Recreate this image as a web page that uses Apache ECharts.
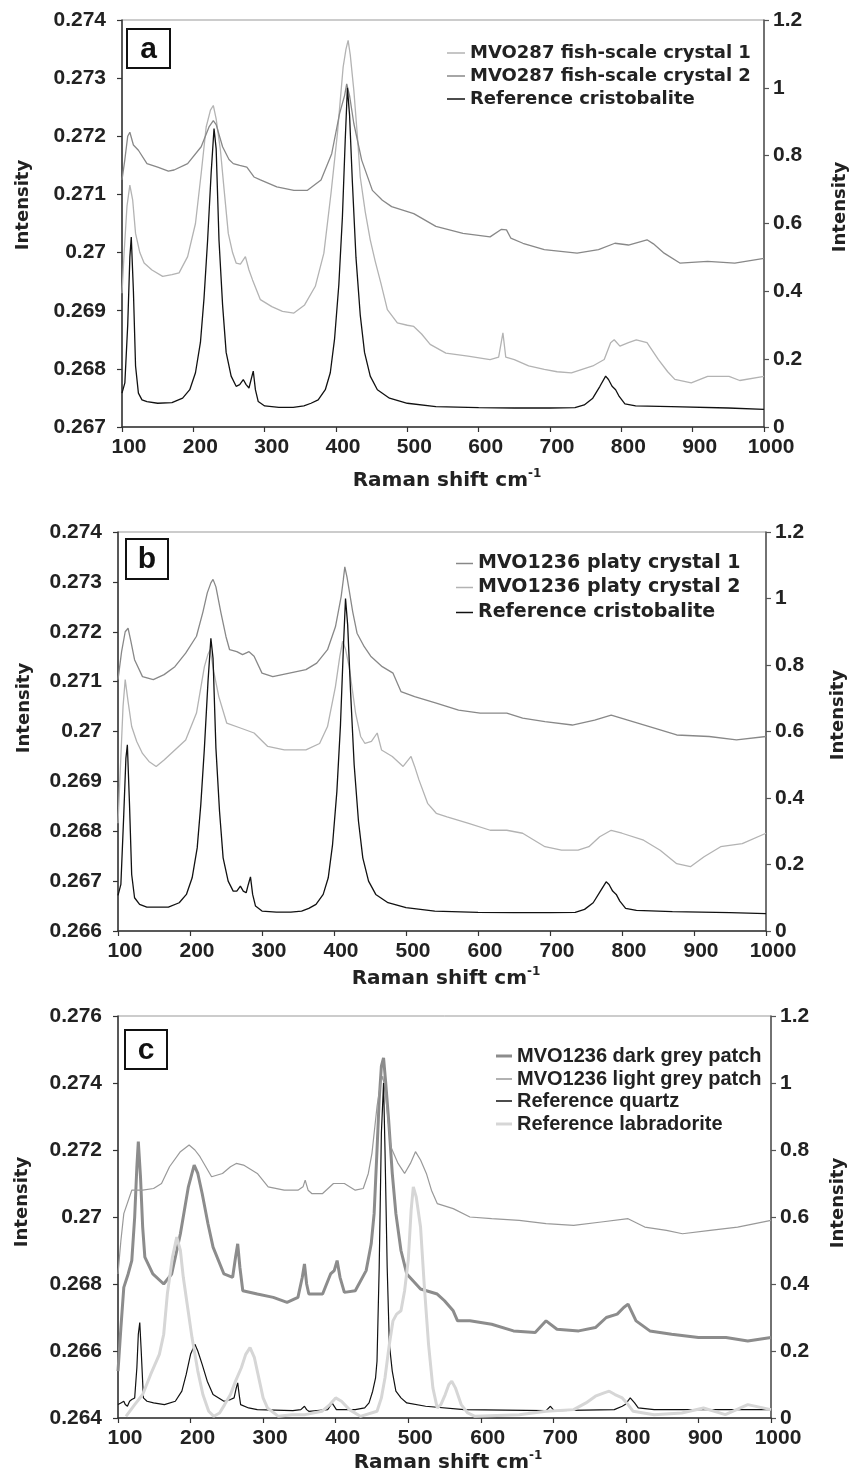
<!DOCTYPE html>
<html>
<head>
<meta charset="utf-8">
<script src="https://cdn.jsdelivr.net/npm/echarts@6.0.0/dist/echarts.min.js"></script>
<style>
  html, body { margin: 0; padding: 0; background: #fff; }
  #chart { width: 854px; height: 1475px; }
</style>
</head>
<body>
<div id="chart"></div>
<script>
// values: [Raman shift cm-1, intensity]

// panel a (samples on left axis, reference on right axis)
const aCrystal1 = [[100,0.2693],[103,0.2700],[107,0.2708],[111,0.27116],[115,0.2709],[119,0.27033],[125,0.2700],[131,0.26982],[142,0.2697],[157,0.26959],[170,0.26962],[180,0.26965],[192,0.26993],[203,0.2705],[211,0.27136],[218,0.27216],[224,0.27245],[228,0.27253],[232,0.2723],[238,0.27176],[243,0.2711],[249,0.27033],[255,0.2700],[260,0.26982],[266,0.2698],[273,0.26993],[278,0.2697],[283,0.26953],[294,0.26919],[310,0.26907],[325,0.26899],[341,0.26896],[356,0.2691],[371,0.26942],[383,0.26999],[393,0.27102],[402,0.27205],[410,0.27319],[414,0.2735],[417,0.27365],[420,0.2734],[425,0.27279],[430,0.2720],[434,0.2713],[441,0.2707],[448,0.27022],[455,0.26985],[463,0.26947],[472,0.26902],[486,0.26879],[500,0.26875],[509,0.26873],[520,0.2686],[532,0.26842],[554,0.26827],[585,0.26822],[616,0.26816],[628,0.2682],[634,0.26862],[638,0.2682],[650,0.26816],[670,0.26805],[692,0.26799],[710,0.26795],[730,0.26793],[760,0.26805],[776,0.26816],[785,0.26845],[790,0.2685],[798,0.26839],[810,0.26845],[821,0.2685],[836,0.26845],[852,0.26816],[865,0.26795],[875,0.26782],[898,0.26776],[921,0.26787],[951,0.26787],[966,0.2678],[1000,0.26787]];
const aCrystal2 = [[100,0.27125],[104,0.2716],[108,0.2720],[111,0.27207],[116,0.27185],[123,0.27176],[135,0.27153],[150,0.27147],[165,0.2714],[173,0.27142],[192,0.27153],[211,0.27182],[222,0.27216],[228,0.27227],[232,0.2722],[241,0.27182],[250,0.2716],[256,0.27153],[265,0.2715],[275,0.27147],[285,0.2713],[294,0.27125],[317,0.27113],[341,0.27107],[360,0.27107],[379,0.27125],[394,0.2717],[405,0.27239],[412,0.2727],[415,0.2729],[419,0.2727],[425,0.27222],[436,0.27159],[451,0.27107],[465,0.2709],[478,0.27079],[509,0.27067],[540,0.27045],[578,0.27033],[616,0.27027],[632,0.2704],[639,0.27039],[645,0.27025],[662,0.27016],[692,0.27005],[738,0.26999],[768,0.27005],[791,0.27016],[810,0.27013],[836,0.27022],[845,0.27015],[860,0.26999],[882,0.26982],[921,0.26985],[959,0.26982],[1000,0.2699]];
const aCristobalite = [[100,0.10],[104,0.13],[108,0.30],[111,0.50],[113,0.56],[116,0.40],[119,0.18],[123,0.10],[128,0.08],[135,0.075],[150,0.070],[170,0.072],[185,0.085],[195,0.11],[203,0.16],[210,0.25],[215,0.38],[220,0.55],[225,0.75],[229,0.88],[232,0.82],[236,0.55],[241,0.36],[246,0.22],[253,0.15],[260,0.12],[265,0.125],[270,0.14],[274,0.125],[278,0.115],[281,0.14],[284,0.165],[287,0.11],[291,0.075],[300,0.062],[320,0.058],[340,0.058],[355,0.062],[365,0.07],[375,0.08],[385,0.11],[392,0.16],[398,0.26],[404,0.42],[409,0.62],[413,0.85],[416,1.0],[419,0.92],[423,0.72],[428,0.50],[434,0.33],[440,0.22],[448,0.15],[458,0.11],[475,0.085],[500,0.07],[540,0.06],[600,0.057],[650,0.056],[700,0.056],[735,0.057],[748,0.065],[760,0.085],[770,0.12],[778,0.15],[782,0.14],[787,0.12],[792,0.11],[797,0.09],[805,0.068],[820,0.062],[870,0.06],[950,0.056],[1000,0.052]];

// panel b
const bCrystal1 = [[100,0.27104],[105,0.2716],[110,0.2720],[114,0.27207],[118,0.2718],[123,0.27144],[134,0.2711],[149,0.27104],[164,0.27114],[179,0.2713],[194,0.27157],[209,0.27191],[218,0.2724],[224,0.27278],[229,0.27298],[232,0.27305],[236,0.2729],[243,0.27238],[250,0.2719],[255,0.27164],[265,0.2716],[273,0.27154],[282,0.2716],[289,0.27151],[300,0.27117],[315,0.2711],[338,0.27117],[361,0.27124],[376,0.27137],[391,0.27164],[402,0.2721],[410,0.27271],[413,0.27305],[415,0.2733],[418,0.2731],[421,0.27284],[426,0.2724],[432,0.27197],[442,0.2717],[451,0.27151],[467,0.2713],[482,0.27117],[493,0.2708],[512,0.2707],[542,0.27057],[573,0.27043],[603,0.27037],[640,0.27037],[662,0.27027],[693,0.2702],[731,0.27013],[762,0.27023],[785,0.27033],[815,0.2702],[845,0.27007],[876,0.26993],[921,0.2699],[959,0.26983],[1000,0.2699]];
const bCrystal2 = [[100,0.26816],[104,0.2695],[107,0.2705],[110,0.27104],[114,0.2706],[119,0.2701],[126,0.2698],[134,0.26956],[143,0.2694],[153,0.2693],[164,0.26943],[179,0.26963],[194,0.26983],[209,0.27037],[220,0.2713],[225,0.27155],[228,0.27164],[233,0.2712],[240,0.2707],[251,0.27017],[270,0.27007],[289,0.26997],[308,0.2697],[331,0.26963],[361,0.26963],[380,0.26976],[391,0.2701],[402,0.2709],[408,0.2715],[412,0.27181],[416,0.27165],[421,0.2713],[430,0.27037],[437,0.2699],[443,0.26976],[452,0.2698],[460,0.26997],[466,0.26963],[481,0.2695],[496,0.2693],[507,0.2695],[512,0.2693],[518,0.26903],[530,0.26856],[542,0.26836],[557,0.26829],[587,0.26816],[617,0.26802],[640,0.26802],[662,0.26796],[693,0.26769],[716,0.26762],[739,0.26762],[754,0.26769],[769,0.26789],[785,0.26802],[800,0.26796],[830,0.26782],[853,0.26762],[876,0.26735],[895,0.26729],[914,0.26749],[937,0.26769],[967,0.26775],[1000,0.26796]];
const bCristobalite = [[100,0.107],[104,0.14],[108,0.35],[111,0.52],[113,0.56],[116,0.38],[119,0.17],[123,0.10],[130,0.08],[140,0.072],[170,0.072],[185,0.085],[195,0.11],[203,0.16],[210,0.25],[215,0.38],[220,0.55],[225,0.75],[229,0.88],[232,0.82],[236,0.55],[241,0.36],[246,0.22],[253,0.15],[260,0.12],[265,0.12],[270,0.135],[274,0.12],[278,0.115],[281,0.14],[284,0.163],[287,0.11],[291,0.075],[300,0.06],[320,0.057],[340,0.057],[355,0.06],[365,0.068],[375,0.08],[385,0.11],[392,0.16],[398,0.26],[404,0.42],[409,0.62],[413,0.85],[416,1.0],[419,0.92],[423,0.72],[428,0.50],[434,0.33],[440,0.22],[448,0.15],[458,0.11],[475,0.085],[500,0.07],[540,0.06],[600,0.056],[650,0.055],[700,0.055],[735,0.056],[748,0.065],[760,0.085],[770,0.12],[778,0.148],[782,0.14],[787,0.12],[792,0.11],[797,0.09],[805,0.068],[820,0.062],[870,0.058],[950,0.055],[1000,0.052]];

// panel c
const cDarkPatch = [[100,0.2654],[104,0.2667],[108,0.2679],[114,0.2683],[119,0.2687],[123,0.2700],[126,0.2715],[128,0.27225],[131,0.2712],[134,0.2697],[137,0.2688],[148,0.2683],[163,0.2680],[174,0.2683],[186,0.2695],[197,0.2709],[205,0.27155],[210,0.2713],[216,0.2707],[224,0.2698],[231,0.2691],[246,0.2683],[258,0.2682],[262,0.2688],[265,0.2692],[268,0.2685],[272,0.2678],[292,0.2677],[314,0.2676],[333,0.26745],[348,0.2676],[354,0.2682],[357,0.2686],[360,0.2680],[363,0.2677],[382,0.2677],[393,0.2683],[398,0.2684],[402,0.2687],[406,0.2682],[412,0.26775],[427,0.2678],[442,0.2684],[449,0.2692],[453,0.2701],[457,0.2720],[460,0.2735],[463,0.2745],[466,0.27475],[469,0.2740],[473,0.2729],[478,0.2713],[483,0.2701],[490,0.2690],[498,0.2683],[517,0.26785],[540,0.2677],[550,0.2675],[562,0.2672],[568,0.2669],[585,0.2669],[615,0.2668],[645,0.2666],[675,0.26655],[690,0.2669],[705,0.26665],[735,0.2666],[758,0.2667],[773,0.2670],[788,0.2671],[797,0.2673],[803,0.2674],[814,0.2669],[833,0.2666],[863,0.2665],[900,0.2664],[938,0.2664],[968,0.2663],[1000,0.2664]];
const cLightPatch = [[100,0.2683],[104,0.2693],[108,0.2701],[119,0.2708],[134,0.2708],[149,0.27085],[160,0.2710],[171,0.2715],[186,0.27195],[198,0.27215],[206,0.2720],[213,0.2718],[229,0.2712],[244,0.2713],[255,0.2715],[263,0.2716],[273,0.27155],[292,0.2713],[307,0.2709],[329,0.2708],[348,0.2708],[355,0.2709],[358,0.2711],[362,0.2708],[367,0.2707],[382,0.2707],[397,0.2710],[412,0.2710],[427,0.2708],[438,0.27085],[445,0.2713],[450,0.2719],[457,0.2733],[462,0.2740],[465,0.2742],[469,0.2736],[476,0.2721],[486,0.2716],[495,0.2713],[503,0.2716],[510,0.27195],[517,0.2717],[525,0.2713],[532,0.2708],[540,0.2704],[562,0.27025],[585,0.2700],[615,0.26995],[653,0.2699],[690,0.2698],[728,0.26975],[766,0.26985],[803,0.26995],[826,0.2697],[856,0.2696],[878,0.2695],[916,0.2696],[954,0.2697],[1000,0.2699]];
const cQuartz = [[100,0.04],[104,0.045],[108,0.05],[110,0.04],[113,0.035],[116,0.05],[119,0.055],[123,0.06],[126,0.15],[128,0.25],[130,0.285],[132,0.20],[135,0.06],[140,0.05],[149,0.045],[164,0.04],[179,0.05],[188,0.08],[194,0.13],[200,0.19],[206,0.22],[210,0.20],[216,0.16],[223,0.11],[231,0.07],[246,0.05],[255,0.055],[260,0.06],[263,0.09],[265,0.105],[267,0.07],[269,0.04],[280,0.03],[292,0.025],[341,0.022],[352,0.025],[357,0.035],[360,0.025],[363,0.02],[389,0.025],[395,0.045],[401,0.025],[427,0.025],[440,0.03],[446,0.045],[451,0.08],[455,0.12],[457,0.17],[460,0.45],[463,0.85],[466,1.0],[468,0.80],[471,0.45],[474,0.22],[478,0.14],[483,0.08],[490,0.06],[498,0.045],[524,0.035],[577,0.025],[690,0.022],[696,0.035],[701,0.022],[784,0.025],[795,0.035],[799,0.04],[806,0.06],[812,0.045],[817,0.03],[839,0.025],[1000,0.025]];
const cLabradorite = [[111,0.005],[123,0.04],[134,0.07],[145,0.13],[157,0.19],[163,0.25],[168,0.37],[175,0.48],[181,0.54],[186,0.50],[190,0.42],[196,0.33],[202,0.24],[210,0.14],[217,0.07],[225,0.02],[232,0.005],[240,0.015],[247,0.04],[255,0.07],[262,0.11],[270,0.15],[276,0.19],[282,0.21],[288,0.18],[295,0.11],[300,0.06],[306,0.03],[321,0.005],[340,0.01],[358,0.01],[381,0.02],[392,0.04],[400,0.06],[408,0.05],[419,0.025],[434,0.005],[457,0.02],[463,0.06],[468,0.12],[474,0.22],[479,0.29],[484,0.31],[490,0.32],[495,0.38],[500,0.47],[504,0.62],[507,0.69],[511,0.66],[517,0.57],[522,0.40],[528,0.22],[534,0.09],[540,0.03],[545,0.04],[551,0.07],[556,0.10],[560,0.11],[565,0.09],[573,0.04],[582,0.015],[592,0.005],[653,0.01],[690,0.02],[728,0.025],[745,0.045],[758,0.065],[770,0.075],[777,0.08],[785,0.07],[795,0.06],[803,0.04],[810,0.02],[839,0.01],[877,0.015],[907,0.03],[937,0.01],[968,0.04],[1000,0.025]];

const legendA = ['MVO287 fish-scale crystal 1', 'MVO287 fish-scale crystal 2', 'Reference cristobalite'];
const legendB = ['MVO1236 platy crystal 1', 'MVO1236 platy crystal 2', 'Reference cristobalite '];
const legendC = ['MVO1236 dark grey patch', 'MVO1236 light grey patch', 'Reference quartz', 'Reference labradorite'];
const leftRanges = [[0.267, 0.274, 0.001], [0.266, 0.274, 0.001], [0.264, 0.276, 0.002]];

const grids = [
  { left: 122, top: 20, width: 642, height: 407 },
  { left: 118, top: 532, width: 648, height: 399 },
  { left: 118, top: 1016, width: 653, height: 402 }
];

const tickFont = { fontFamily: 'Liberation Sans', fontWeight: 'bold', fontSize: 21, color: '#222' };
const axisDark = { show: true, lineStyle: { color: '#333', width: 1.5 } };
const tickDark = { show: true, length: 5, lineStyle: { color: '#333', width: 1.2 } };

const xAxes = grids.map((g, i) => ({
  type: 'value', gridIndex: i, min: 100, max: 1000, interval: 100,
  axisLine: axisDark, axisTick: tickDark, splitLine: { show: false },
  axisLabel: Object.assign({ margin: 10, padding: [0, 0, 0, 14], formatter: v => String(v) }, tickFont)
}));

const yAxes = [];
grids.forEach((g, i) => {
  const r = leftRanges[i];
  yAxes.push({
    type: 'value', gridIndex: i, position: 'left', min: r[0], max: r[1], interval: r[2],
    axisLine: axisDark, axisTick: tickDark, splitLine: { show: false },
    axisLabel: Object.assign({ margin: 16 }, tickFont)
  });
  yAxes.push({
    type: 'value', gridIndex: i, position: 'right', min: 0, max: 1.2, interval: 0.2,
    axisLine: { show: true, lineStyle: { color: '#555', width: 1.5 } },
    axisTick: { show: true, length: 5, lineStyle: { color: '#555', width: 1.2 } },
    splitLine: { show: false },
    axisLabel: Object.assign({ margin: 9 }, tickFont)
  });
});

function line(name, data, panel, right, color, width) {
  return {
    name: name, type: 'line', data: data,
    xAxisIndex: panel, yAxisIndex: panel * 2 + (right ? 1 : 0),
    symbol: 'none', showSymbol: false,
    lineStyle: { color: color, width: width },
    itemStyle: { color: color },
    animation: false
  };
}

const series = [
  line(legendA[0], aCrystal1, 0, false, '#b3b3b3', 1.3),
  line(legendA[1], aCrystal2, 0, false, '#888888', 1.3),
  line(legendA[2], aCristobalite, 0, true, '#111111', 1.3),
  line(legendB[0], bCrystal1, 1, false, '#888888', 1.3),
  line(legendB[1], bCrystal2, 1, false, '#b3b3b3', 1.3),
  line(legendB[2], bCristobalite, 1, true, '#111111', 1.3),
  line(legendC[0], cDarkPatch, 2, false, '#8c8c8c', 3),
  line(legendC[1], cLightPatch, 2, false, '#999999', 1.2),
  line(legendC[2], cQuartz, 2, true, '#111111', 1.2),
  line(legendC[3], cLabradorite, 2, true, '#d6d6d6', 3)
];

// one legend per row so each key line can keep its own thickness
function legendRow(name, left, cy, w, thick, font, size) {
  return {
    data: [name], left: left, top: cy - 11, orient: 'vertical',
    icon: 'rect', itemWidth: w, itemHeight: thick, selectedMode: false,
    textStyle: { fontFamily: font, fontWeight: 'bold', fontSize: size, color: '#222' }
  };
}
const legends = [
  legendRow(legendA[0], 442, 50, 18, 1.5, 'DejaVu Sans', 18),
  legendRow(legendA[1], 442, 73, 18, 1.5, 'DejaVu Sans', 18),
  legendRow(legendA[2], 442, 96, 18, 1.5, 'DejaVu Sans', 18),
  legendRow(legendB[0], 451, 560, 17, 1.5, 'DejaVu Sans', 19),
  legendRow(legendB[1], 451, 584, 17, 1.5, 'DejaVu Sans', 19),
  legendRow(legendB[2], 451, 609, 17, 1.5, 'DejaVu Sans', 19),
  legendRow(legendC[0], 491, 1052, 16, 3, 'Liberation Sans', 20),
  legendRow(legendC[1], 491, 1075, 16, 1.5, 'Liberation Sans', 20),
  legendRow(legendC[2], 491, 1097, 16, 1.5, 'Liberation Sans', 20),
  legendRow(legendC[3], 491, 1120, 16, 3, 'Liberation Sans', 20)
];

const titleFont = { fontFamily: 'DejaVu Sans', fontWeight: 'bold', fontSize: 18 };
function vtitle(x, y) {
  return {
    type: 'text', x: x, y: y, rotation: Math.PI / 2,
    style: Object.assign({ text: 'Intensity', fill: '#222', textAlign: 'center', textVerticalAlign: 'middle', align: 'center', verticalAlign: 'middle' }, titleFont)
  };
}
function xtitle(x, y) {
  return {
    type: 'text', x: x, y: y,
    style: {
      text: '{t|Raman shift cm}{s|-1}', fill: '#222',
      textAlign: 'center', textVerticalAlign: 'middle', align: 'center', verticalAlign: 'middle',
      rich: {
        t: { fontFamily: 'DejaVu Sans', fontWeight: 'bold', fontSize: 20, lineHeight: 26, fill: '#222' },
        s: { fontFamily: 'DejaVu Sans', fontWeight: 'bold', fontSize: 12, verticalAlign: 'top', fill: '#222' }
      }
    }
  };
}
function panelBox(label, x, y, w, h) {
  return {
    type: 'group', children: [
      { type: 'rect', shape: { x: x, y: y, width: w, height: h }, style: { fill: '#fff', stroke: '#111', lineWidth: 2 } },
      { type: 'text', x: x + w / 2, y: y + h / 2 + 1,
        style: { text: label, fill: '#111', font: 'bold 30px "Liberation Sans"', textAlign: 'center', textVerticalAlign: 'middle', align: 'center', verticalAlign: 'middle' } }
    ]
  };
}

const chart = echarts.init(document.getElementById('chart'));
chart.setOption({
  backgroundColor: '#fff',
  animation: false,
  grid: grids.map(g => Object.assign({ show: true, borderColor: '#999', borderWidth: 1 }, g)),
  xAxis: xAxes,
  yAxis: yAxes,
  legend: legends,
  graphic: [
    panelBox('a', 127, 29, 43, 39),
    panelBox('b', 126, 539, 42, 40),
    panelBox('c', 125, 1030, 42, 39),
    vtitle(23, 205), vtitle(840, 207),
    vtitle(24, 708), vtitle(838, 715),
    vtitle(22, 1202), vtitle(838, 1203),
    xtitle(447, 481), xtitle(446, 979), xtitle(448, 1463)
  ],
  series: series
});
</script>
</body>
</html>
